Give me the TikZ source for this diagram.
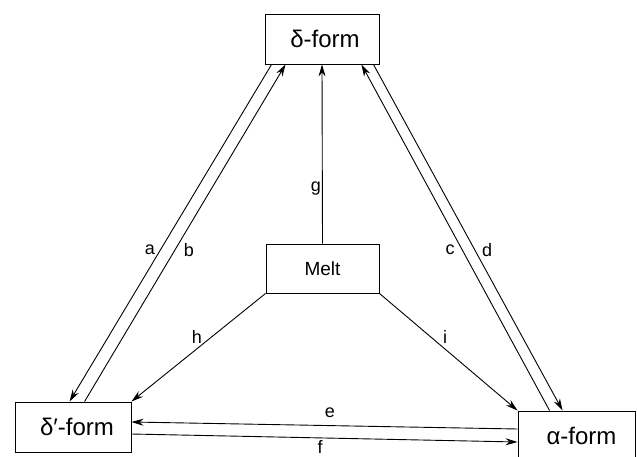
\documentclass[tikz,border=0pt]{standalone}
\usepackage{fontspec}
\setmainfont{Liberation Sans}
\usetikzlibrary{arrows.meta}
\begin{document}
\begin{tikzpicture}[x=1pt,y=-1pt,
  formbox/.style={draw,line width=0.9pt,minimum width=114pt,minimum height=50pt,inner sep=0pt,font=\fontsize{24}{26}\selectfont},
  meltbox/.style={draw,line width=0.9pt,minimum width=113pt,minimum height=49pt,inner sep=0pt,font=\fontsize{19}{21}\selectfont},
  conn/.style={line width=0.9pt,-{Stealth[length=12pt,width=7pt]}},
  lbl/.style={font=\fontsize{18}{20}\selectfont,inner sep=0pt}]
\useasboundingbox (0,0) rectangle (637,457);
\node[formbox] (delta) at (322,39) {\hspace*{6pt}δ-form};
\node[formbox,minimum width=116pt] (dp) at (73,427) {\hspace*{8pt}δ′-form};
\node[formbox,minimum width=117pt] (alpha) at (576.5,436) {\hspace*{10pt}α-form};
\node[meltbox] (melt) at (322.5,268.5) {Melt};
% a, b
\draw[conn] ([xshift=7pt]delta.south west) -- ([xshift=55pt]dp.north west);
\draw[conn] ([xshift=70pt]dp.north west) -- ([xshift=21pt]delta.south west);
% g
\draw[conn] (melt.north) -- (delta.south);
% c, d
\draw[conn] ([xshift=32pt]alpha.north west) -- ([xshift=-18pt]delta.south east);
\draw[conn] ([xshift=-6pt]delta.south east) -- ([xshift=45pt]alpha.north west);
% h, i
\draw[conn] (melt.south west) -- (dp.north east);
\draw[conn] (melt.south east) -- (alpha.north west);
% e, f
\draw[conn] ([yshift=7pt]alpha.west) -- ([yshift=5pt]dp.east);
\draw[conn] ([yshift=-7pt]dp.east) -- ([yshift=-6pt]alpha.west);
% labels
\node[lbl] (la) at (150,250) {a};
\node[lbl] (lb) at (189,250) {b};
\node[lbl] (lg) at (316,189) {g};
\node[lbl] (lc) at (450,250) {c};
\node[lbl] (ld) at (487,250) {d};
\node[lbl] (lh) at (197,337) {h};
\node[lbl] (li) at (445,337) {i};
\node[lbl] (le) at (330,413) {e};
\node[lbl] (lf) at (320,447) {f};
\end{tikzpicture}
\end{document}
